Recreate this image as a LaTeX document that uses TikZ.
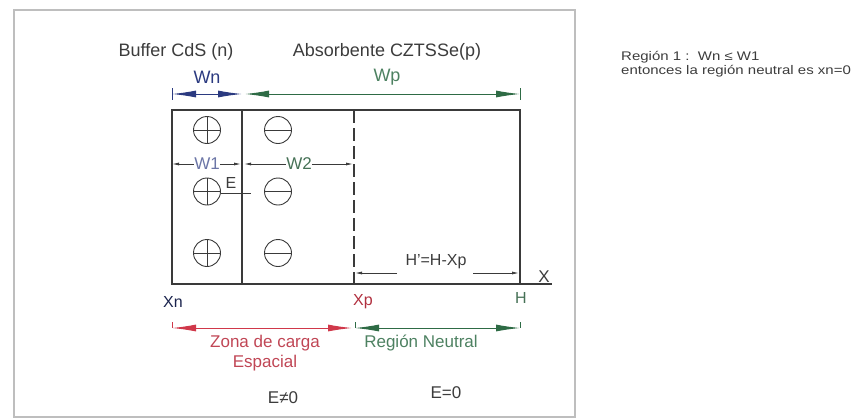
\documentclass[tikz,border=0pt]{standalone}
\usepackage{fontspec}
\setmainfont{Liberation Sans}
\usetikzlibrary{positioning, arrows.meta}
\definecolor{textc}{HTML}{3C3C3C}
\definecolor{linec}{HTML}{3A3A3A}
\definecolor{framec}{HTML}{BEBEBE}
\definecolor{navyc}{HTML}{2B3A80}
\definecolor{greenc}{HTML}{2E6B45}
\definecolor{redc}{HTML}{D0384A}
\tikzset{
    >={Latex[length=24pt,width=7pt]}, % long slim heads for the width arrows
    lbl/.style={text=textc, inner sep=0pt, font=\fontsize{18}{20}\selectfont}, % plain labels
    boxline/.style={linec, line width=1.3pt}, % outline of the cell
    dimarrow/.style={linec, line width=0.8pt, -{Latex[length=7pt,width=3pt]}}, % small dimension arrows
    tickmark/.style={line width=0.8pt}, % end ticks of the width arrows
}
\begin{document}
\begin{tikzpicture}[
                    x=1pt, y=-1pt,
                    ion/.style={circle, draw=linec, line width=0.9pt, minimum size=27pt, inner sep=0pt},
                    plusion/.style={ion, path picture={\draw[linec, line width=0.9pt]
                        (path picture bounding box.north) -- (path picture bounding box.south)
                        (path picture bounding box.west) -- (path picture bounding box.east);}},
                    minusion/.style={ion, path picture={\draw[linec, line width=0.9pt]
                        (path picture bounding box.west) -- (path picture bounding box.east);}},
                    node distance=61.5pt,
                ]
    \useasboundingbox (0,0) rectangle (860,418);
    \draw[framec, line width=1.5pt] (14,10) rectangle (575,417);

    % the cell
    \coordinate (nw) at (172,110);
    \coordinate (se) at (520,284);
    \coordinate (jt) at (242,110);
    \coordinate (jb) at (242,284);
    \coordinate (dt) at (354,110);
    \coordinate (db) at (354,284);
    \coordinate (xend) at (552,284);
    \draw[boxline] (nw) rectangle (se);
    \draw[boxline] (jt) -- (jb);
    \draw[boxline, dash pattern=on 13pt off 5pt] (dt) -- (db);
    \draw[boxline] (se) -- (xend);

    % fixed charges
    \node[plusion] (p1) at (207,130) {};
    \node[plusion, below of=p1] (p2) {};
    \node[plusion, below of=p2] (p3) {};
    \node[minusion, right of=p1, node distance=71pt] (m1) {};
    \node[minusion, right of=p2, node distance=71pt] (m2) {};
    \node[minusion, right of=p3, node distance=71pt] (m3) {};

    % titles
    \node[lbl] (buf) at (176,52) {Buffer CdS (n)};
    \node[lbl] (abs) at (387,52) {Absorbente CZTSSe(p)};
    \node[lbl, text=navyc] (wn) at (207,77) {Wn};
    \node[lbl, text=greenc!85!white] (wp) at (387,77) {Wp};

    % widths on top
    \coordinate (wa) at (172,94);
    \coordinate (wb) at (242,94);
    \coordinate (wc) at (245,94);
    \coordinate (wd) at (520,94);
    \draw[navyc, line width=1pt, <->] (wa) -- (wb);
    \draw[greenc, line width=1pt, <->] (wc) -- (wd);
    \draw[tickmark, navyc] (wa) ++(0,-6) -- ++(0,12);
    \draw[tickmark, greenc] (wd) ++(0,-6) -- ++(0,12);

    % W1 and W2
    \node[lbl, text=navyc!70!white, font=\fontsize{17}{19}\selectfont] (w1) at (207,164) {W1};
    \node[lbl, text=greenc!70!gray, font=\fontsize{17}{19}\selectfont] (w2) at (299,164) {W2};
    \coordinate (w1l) at (172,164);
    \coordinate (w1r) at (241,164);
    \coordinate (w2l) at (244,164);
    \coordinate (w2r) at (353,164);
    \draw[dimarrow] (w1.west) -- (w1l);
    \draw[dimarrow] (w1.east) -- (w1r);
    \draw[dimarrow] (w2.west) -- (w2l);
    \draw[dimarrow] (w2.east) -- (w2r);

    % field
    \node[lbl, font=\fontsize{16}{18}\selectfont] (efield) at (231,183) {E};
    \coordinate (eend) at (251,193);
    \draw[linec, line width=0.9pt] (p2.east |- eend) -- (eend);

    % neutral length
    \node[lbl, font=\fontsize{16}{18}\selectfont] (hp) at (436,262) {H'=H-Xp};
    \coordinate (hl) at (355,273);
    \coordinate (hr) at (519,273);
    \coordinate (hm1) at (397,273);
    \coordinate (hm2) at (473,273);
    \draw[dimarrow] (hm1) -- (hl);
    \draw[dimarrow] (hm2) -- (hr);
    \node[lbl, font=\fontsize{17}{19}\selectfont] (xax) at (544,277) {X};

    % positions
    \node[lbl, text=navyc!60!black, font=\fontsize{16}{18}\selectfont] (xn) at (173,302) {Xn};
    \node[lbl, text=redc!85!black, font=\fontsize{16}{18}\selectfont] (xp) at (363,302) {Xp};
    \node[lbl, text=greenc!70!gray, font=\fontsize{16}{18}\selectfont] (hh) at (521,298) {H};

    % regions below
    \coordinate (ra) at (172,328);
    \coordinate (rb) at (352,328);
    \coordinate (rc) at (355,328);
    \coordinate (rd) at (520,328);
    \draw[redc, line width=1pt, <->] (ra) -- (rb);
    \draw[greenc, line width=1pt, <->] (rc) -- (rd);
    \draw[tickmark, redc] (ra) ++(0,-6) -- ++(0,6);
    \draw[tickmark, greenc] (rc) ++(0,-6) -- ++(0,6);
    \draw[tickmark, greenc] (rd) ++(0,-6) -- ++(0,6);
    \node[lbl, text=redc!80!gray, align=center, font=\fontsize{17}{20}\selectfont] (zona) at (265,353) {Zona de carga\\Espacial};
    \node[lbl, text=greenc!85!white, font=\fontsize{17}{19}\selectfont] (neut) at (421,343) {Región Neutral};
    \node[lbl, font=\fontsize{17}{19}\selectfont] (eno) at (283,398) {E≠0};
    \node[lbl, font=\fontsize{17}{19}\selectfont] (ezero) at (446,393) {E=0};

    % note on the right
    \node[lbl, anchor=north west, align=left, font=\fontsize{12.5}{14.5}\selectfont\addfontfeature{FakeStretch=1.2}] (reg) at (621,51)
        {Región 1 :\ \ Wn ≤ W1\\entonces la región neutral es xn=0};
\end{tikzpicture}
\end{document}
